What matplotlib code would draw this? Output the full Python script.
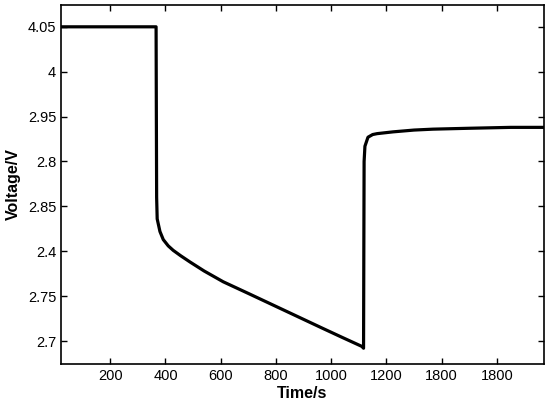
import matplotlib
matplotlib.use("Agg")
import matplotlib.pyplot as plt
import numpy as np

# voltage trace (time in s, voltage in V)
time_s = [22, 100, 200, 300, 366, 367, 368, 370, 380, 392, 410, 428, 455, 489,
          540, 609, 700, 790, 880, 970, 1040, 1111, 1117,
          1118, 1119, 1122, 1133, 1150, 1166, 1195, 1224, 1300, 1368, 1500, 1650, 1770]
voltage_v = [4.05, 4.05, 4.05, 4.05, 4.05, 3.95, 3.86, 3.836, 3.822, 3.813, 3.806, 3.801, 3.795, 3.788,
             3.778, 3.766, 3.753, 3.740, 3.727, 3.714, 3.704, 3.694, 3.692,
             3.80, 3.90, 3.917, 3.927, 3.930, 3.931, 3.932, 3.933, 3.935, 3.936, 3.937, 3.938, 3.938]

x_ticks = [200, 400, 600, 800, 1000, 1200, 1400, 1600]
x_tick_labels = ["200", "400", "600", "800", "1000", "1200", "1800", "1800"]
y_ticks = [4.05, 4.00, 3.95, 3.90, 3.85, 3.80, 3.75, 3.70]
y_tick_labels = ["4.05", "4", "2.95", "2.8", "2.85", "2.4", "2.75", "2.7"]

plt.rcParams['font.family'] = ['Liberation Sans', 'DejaVu Sans']

fig = plt.figure(figsize=(5.5, 4.09), dpi=100)
ax = fig.add_axes([0.111, 0.110, 0.878, 0.878])

ax.plot(time_s, voltage_v, color="black", linewidth=2.3, solid_joinstyle="round")

ax.set_xlim(22, 1770)
ax.set_ylim(3.6744, 4.0744)
ax.set_xticks(x_ticks)
ax.set_xticklabels(x_tick_labels)
ax.set_yticks(y_ticks)
ax.set_yticklabels(y_tick_labels)

ax.tick_params(direction="in", top=True, right=True, length=4, width=1,
               labelsize=10.5, colors="black")
for side in ax.spines.values():
    side.set_linewidth(1.2)

ax.set_xlabel("Time/s", fontsize=11.5, fontweight="bold", labelpad=2)
ax.set_ylabel("Voltage/V", fontsize=11.5, fontweight="bold", labelpad=5)

fig.savefig("out.png", dpi=100)
plt.close(fig)
